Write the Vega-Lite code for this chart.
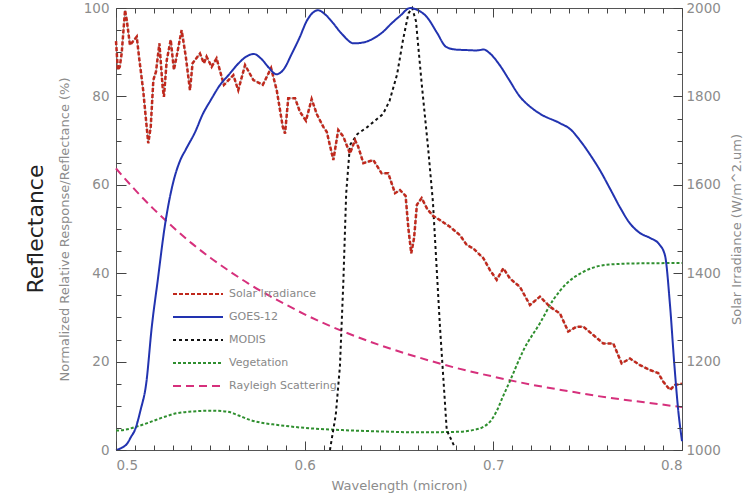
{
  "$schema": "https://vega.github.io/schema/vega-lite/v6.json",
  "width": 566,
  "height": 442,
  "autosize": {"type": "none"},
  "padding": {"left": 116, "top": 8, "right": 70, "bottom": 47},
  "background": "white",
  "title": {"text": "Reflectance", "orient": "left", "anchor": "middle", "font": "DejaVu Sans", "fontSize": 22, "fontWeight": "normal", "color": "#222222", "offset": 10},
  "config": {
    "view": {"stroke": "#555555", "strokeWidth": 1},
    "axis": {"labelFont": "DejaVu Sans", "labelFontSize": 13.5, "labelColor": "#8c8c8c", "titleFont": "DejaVu Sans", "titleFontSize": 13, "titleColor": "#8c8c8c", "titleFontWeight": "normal", "grid": false, "domain": false, "tickColor": "#444444", "tickWidth": 1, "tickOpacity": 1},
    "legend": {"orient": "none", "legendX": 76, "legendY": 280, "symbolType": "M-5,0H5", "symbolSize": 100, "symbolStrokeWidth": 2, "labelFont": "DejaVu Sans", "labelFontSize": 11, "labelColor": "#888888", "labelOffset": 25, "rowPadding": 12}
  },
  "datasets": {
    "rayleigh": [
      {"series": "Rayleigh Scattering", "wl": 0.50, "v": 63.7}, {"series": "Rayleigh Scattering", "wl": 0.51, "v": 58.9}, {"series": "Rayleigh Scattering", "wl": 0.52, "v": 54.5}, {"series": "Rayleigh Scattering", "wl": 0.53, "v": 50.5}, {"series": "Rayleigh Scattering", "wl": 0.54, "v": 46.8}, {"series": "Rayleigh Scattering", "wl": 0.55, "v": 43.5}, {"series": "Rayleigh Scattering", "wl": 0.56, "v": 40.5}, {"series": "Rayleigh Scattering", "wl": 0.57, "v": 37.7}, {"series": "Rayleigh Scattering", "wl": 0.58, "v": 35.2}, {"series": "Rayleigh Scattering", "wl": 0.59, "v": 32.9}, {"series": "Rayleigh Scattering", "wl": 0.60, "v": 30.7}, {"series": "Rayleigh Scattering", "wl": 0.62, "v": 26.9}, {"series": "Rayleigh Scattering", "wl": 0.64, "v": 23.7}, {"series": "Rayleigh Scattering", "wl": 0.66, "v": 21.0}, {"series": "Rayleigh Scattering", "wl": 0.68, "v": 18.6}, {"series": "Rayleigh Scattering", "wl": 0.70, "v": 16.6}, {"series": "Rayleigh Scattering", "wl": 0.72, "v": 14.8}, {"series": "Rayleigh Scattering", "wl": 0.74, "v": 13.3}, {"series": "Rayleigh Scattering", "wl": 0.76, "v": 11.9}, {"series": "Rayleigh Scattering", "wl": 0.78, "v": 10.8}, {"series": "Rayleigh Scattering", "wl": 0.80, "v": 9.7}
    ],
    "veg": [
      {"series": "Vegetation", "wl": 0.500, "v": 4.4}, {"series": "Vegetation", "wl": 0.505, "v": 4.6}, {"series": "Vegetation", "wl": 0.511, "v": 5.3}, {"series": "Vegetation", "wl": 0.518, "v": 6.3}, {"series": "Vegetation", "wl": 0.525, "v": 7.4}, {"series": "Vegetation", "wl": 0.532, "v": 8.3}, {"series": "Vegetation", "wl": 0.540, "v": 8.7}, {"series": "Vegetation", "wl": 0.550, "v": 8.9}, {"series": "Vegetation", "wl": 0.5587, "v": 8.7}, {"series": "Vegetation", "wl": 0.565, "v": 7.8}, {"series": "Vegetation", "wl": 0.571, "v": 6.8}, {"series": "Vegetation", "wl": 0.578, "v": 6.1}, {"series": "Vegetation", "wl": 0.585, "v": 5.7}, {"series": "Vegetation", "wl": 0.595, "v": 5.2}, {"series": "Vegetation", "wl": 0.603, "v": 4.9}, {"series": "Vegetation", "wl": 0.620, "v": 4.5}, {"series": "Vegetation", "wl": 0.640, "v": 4.2}, {"series": "Vegetation", "wl": 0.660, "v": 4.0}, {"series": "Vegetation", "wl": 0.680, "v": 4.1}, {"series": "Vegetation", "wl": 0.689, "v": 4.5}, {"series": "Vegetation", "wl": 0.695, "v": 5.3}, {"series": "Vegetation", "wl": 0.699, "v": 6.8}, {"series": "Vegetation", "wl": 0.702, "v": 9.0}, {"series": "Vegetation", "wl": 0.705, "v": 12.0}, {"series": "Vegetation", "wl": 0.709, "v": 15.8}, {"series": "Vegetation", "wl": 0.716, "v": 22.6}, {"series": "Vegetation", "wl": 0.7247, "v": 28.7}, {"series": "Vegetation", "wl": 0.7318, "v": 34.0}, {"series": "Vegetation", "wl": 0.7389, "v": 37.7}, {"series": "Vegetation", "wl": 0.7477, "v": 40.3}, {"series": "Vegetation", "wl": 0.760, "v": 41.9}, {"series": "Vegetation", "wl": 0.774, "v": 42.2}, {"series": "Vegetation", "wl": 0.800, "v": 42.3}
    ],
    "modis": [
      {"series": "MODIS", "wl": 0.6134, "v": 0}, {"series": "MODIS", "wl": 0.6165, "v": 8}, {"series": "MODIS", "wl": 0.6187, "v": 19}, {"series": "MODIS", "wl": 0.6205, "v": 38}, {"series": "MODIS", "wl": 0.622, "v": 58}, {"series": "MODIS", "wl": 0.624, "v": 69}, {"series": "MODIS", "wl": 0.628, "v": 71.5}, {"series": "MODIS", "wl": 0.633, "v": 73}, {"series": "MODIS", "wl": 0.6415, "v": 76}, {"series": "MODIS", "wl": 0.645, "v": 79}, {"series": "MODIS", "wl": 0.649, "v": 85}, {"series": "MODIS", "wl": 0.652, "v": 92.5}, {"series": "MODIS", "wl": 0.655, "v": 98.8}, {"series": "MODIS", "wl": 0.657, "v": 100}, {"series": "MODIS", "wl": 0.659, "v": 97}, {"series": "MODIS", "wl": 0.662, "v": 83}, {"series": "MODIS", "wl": 0.6655, "v": 68}, {"series": "MODIS", "wl": 0.668, "v": 56}, {"series": "MODIS", "wl": 0.6717, "v": 28}, {"series": "MODIS", "wl": 0.6753, "v": 4.5}, {"series": "MODIS", "wl": 0.6797, "v": 0.5}
    ],
    "goes": [
      {"series": "GOES-12", "wl": 0.500, "v": 0}, {"series": "GOES-12", "wl": 0.503, "v": 0.5}, {"series": "GOES-12", "wl": 0.506, "v": 1.5}, {"series": "GOES-12", "wl": 0.508, "v": 3}, {"series": "GOES-12", "wl": 0.510, "v": 4.5}, {"series": "GOES-12", "wl": 0.513, "v": 9}, {"series": "GOES-12", "wl": 0.516, "v": 15}, {"series": "GOES-12", "wl": 0.519, "v": 28}, {"series": "GOES-12", "wl": 0.522, "v": 38}, {"series": "GOES-12", "wl": 0.526, "v": 51}, {"series": "GOES-12", "wl": 0.530, "v": 60}, {"series": "GOES-12", "wl": 0.534, "v": 65.5}, {"series": "GOES-12", "wl": 0.537, "v": 68}, {"series": "GOES-12", "wl": 0.542, "v": 72}, {"series": "GOES-12", "wl": 0.546, "v": 76}, {"series": "GOES-12", "wl": 0.550, "v": 79}, {"series": "GOES-12", "wl": 0.555, "v": 82.5}, {"series": "GOES-12", "wl": 0.560, "v": 85}, {"series": "GOES-12", "wl": 0.565, "v": 87.5}, {"series": "GOES-12", "wl": 0.569, "v": 89}, {"series": "GOES-12", "wl": 0.573, "v": 89.6}, {"series": "GOES-12", "wl": 0.577, "v": 88.5}, {"series": "GOES-12", "wl": 0.581, "v": 86.5}, {"series": "GOES-12", "wl": 0.585, "v": 85}, {"series": "GOES-12", "wl": 0.589, "v": 86.2}, {"series": "GOES-12", "wl": 0.593, "v": 89.5}, {"series": "GOES-12", "wl": 0.5975, "v": 93.5}, {"series": "GOES-12", "wl": 0.601, "v": 97}, {"series": "GOES-12", "wl": 0.604, "v": 98.8}, {"series": "GOES-12", "wl": 0.607, "v": 99.5}, {"series": "GOES-12", "wl": 0.611, "v": 98.5}, {"series": "GOES-12", "wl": 0.615, "v": 96.6}, {"series": "GOES-12", "wl": 0.620, "v": 94}, {"series": "GOES-12", "wl": 0.626, "v": 92}, {"series": "GOES-12", "wl": 0.631, "v": 92.2}, {"series": "GOES-12", "wl": 0.636, "v": 93}, {"series": "GOES-12", "wl": 0.6415, "v": 94.6}, {"series": "GOES-12", "wl": 0.646, "v": 96.5}, {"series": "GOES-12", "wl": 0.6505, "v": 98.2}, {"series": "GOES-12", "wl": 0.656, "v": 100}, {"series": "GOES-12", "wl": 0.660, "v": 99.5}, {"series": "GOES-12", "wl": 0.6647, "v": 98}, {"series": "GOES-12", "wl": 0.670, "v": 94.5}, {"series": "GOES-12", "wl": 0.675, "v": 91.2}, {"series": "GOES-12", "wl": 0.680, "v": 90.6}, {"series": "GOES-12", "wl": 0.685, "v": 90.5}, {"series": "GOES-12", "wl": 0.691, "v": 90.4}, {"series": "GOES-12", "wl": 0.695, "v": 90.6}, {"series": "GOES-12", "wl": 0.698, "v": 89.8}, {"series": "GOES-12", "wl": 0.7035, "v": 87}, {"series": "GOES-12", "wl": 0.708, "v": 84}, {"series": "GOES-12", "wl": 0.714, "v": 80}, {"series": "GOES-12", "wl": 0.720, "v": 77.5}, {"series": "GOES-12", "wl": 0.725, "v": 76}, {"series": "GOES-12", "wl": 0.735, "v": 74}, {"series": "GOES-12", "wl": 0.741, "v": 72.5}, {"series": "GOES-12", "wl": 0.746, "v": 70}, {"series": "GOES-12", "wl": 0.751, "v": 67}, {"series": "GOES-12", "wl": 0.7565, "v": 63.3}, {"series": "GOES-12", "wl": 0.762, "v": 59}, {"series": "GOES-12", "wl": 0.767, "v": 55}, {"series": "GOES-12", "wl": 0.772, "v": 51.5}, {"series": "GOES-12", "wl": 0.778, "v": 49}, {"series": "GOES-12", "wl": 0.783, "v": 48}, {"series": "GOES-12", "wl": 0.788, "v": 46.5}, {"series": "GOES-12", "wl": 0.791, "v": 44}, {"series": "GOES-12", "wl": 0.7936, "v": 33}, {"series": "GOES-12", "wl": 0.796, "v": 19}, {"series": "GOES-12", "wl": 0.798, "v": 9}, {"series": "GOES-12", "wl": 0.800, "v": 2}
    ],
    "solar": [
      {"series": "Solar Irradiance", "wl": 0.5000, "irr": 1925}, {"series": "Solar Irradiance", "wl": 0.5010, "irr": 1860}, {"series": "Solar Irradiance", "wl": 0.5020, "irr": 1867}, {"series": "Solar Irradiance", "wl": 0.5030, "irr": 1897}, {"series": "Solar Irradiance", "wl": 0.5048, "irr": 1995}, {"series": "Solar Irradiance", "wl": 0.5057, "irr": 1973}, {"series": "Solar Irradiance", "wl": 0.5074, "irr": 1916}, {"series": "Solar Irradiance", "wl": 0.5110, "irr": 1935}, {"series": "Solar Irradiance", "wl": 0.5123, "irr": 1886}, {"series": "Solar Irradiance", "wl": 0.5144, "irr": 1814}, {"series": "Solar Irradiance", "wl": 0.5171, "irr": 1694}, {"series": "Solar Irradiance", "wl": 0.5184, "irr": 1731}, {"series": "Solar Irradiance", "wl": 0.5198, "irr": 1837}, {"series": "Solar Irradiance", "wl": 0.5212, "irr": 1856}, {"series": "Solar Irradiance", "wl": 0.5230, "irr": 1920}, {"series": "Solar Irradiance", "wl": 0.5247, "irr": 1822}, {"series": "Solar Irradiance", "wl": 0.5254, "irr": 1799}, {"series": "Solar Irradiance", "wl": 0.5269, "irr": 1882}, {"series": "Solar Irradiance", "wl": 0.5290, "irr": 1928}, {"series": "Solar Irradiance", "wl": 0.5307, "irr": 1860}, {"series": "Solar Irradiance", "wl": 0.5321, "irr": 1890}, {"series": "Solar Irradiance", "wl": 0.5348, "irr": 1950}, {"series": "Solar Irradiance", "wl": 0.5370, "irr": 1890}, {"series": "Solar Irradiance", "wl": 0.5392, "irr": 1814}, {"series": "Solar Irradiance", "wl": 0.5406, "irr": 1875}, {"series": "Solar Irradiance", "wl": 0.5445, "irr": 1897}, {"series": "Solar Irradiance", "wl": 0.5466, "irr": 1875}, {"series": "Solar Irradiance", "wl": 0.5480, "irr": 1890}, {"series": "Solar Irradiance", "wl": 0.5507, "irr": 1867}, {"series": "Solar Irradiance", "wl": 0.5533, "irr": 1886}, {"series": "Solar Irradiance", "wl": 0.5572, "irr": 1826}, {"series": "Solar Irradiance", "wl": 0.5622, "irr": 1848}, {"series": "Solar Irradiance", "wl": 0.5648, "irr": 1814}, {"series": "Solar Irradiance", "wl": 0.5684, "irr": 1871}, {"series": "Solar Irradiance", "wl": 0.5728, "irr": 1837}, {"series": "Solar Irradiance", "wl": 0.5778, "irr": 1826}, {"series": "Solar Irradiance", "wl": 0.5822, "irr": 1864}, {"series": "Solar Irradiance", "wl": 0.5852, "irr": 1814}, {"series": "Solar Irradiance", "wl": 0.5884, "irr": 1731}, {"series": "Solar Irradiance", "wl": 0.5896, "irr": 1716}, {"series": "Solar Irradiance", "wl": 0.5913, "irr": 1796}, {"series": "Solar Irradiance", "wl": 0.5949, "irr": 1796}, {"series": "Solar Irradiance", "wl": 0.5975, "irr": 1765}, {"series": "Solar Irradiance", "wl": 0.6007, "irr": 1745}, {"series": "Solar Irradiance", "wl": 0.6037, "irr": 1794}, {"series": "Solar Irradiance", "wl": 0.6064, "irr": 1760}, {"series": "Solar Irradiance", "wl": 0.6099, "irr": 1731}, {"series": "Solar Irradiance", "wl": 0.6117, "irr": 1720}, {"series": "Solar Irradiance", "wl": 0.6152, "irr": 1656}, {"series": "Solar Irradiance", "wl": 0.6178, "irr": 1724}, {"series": "Solar Irradiance", "wl": 0.6205, "irr": 1709}, {"series": "Solar Irradiance", "wl": 0.6240, "irr": 1671}, {"series": "Solar Irradiance", "wl": 0.6267, "irr": 1701}, {"series": "Solar Irradiance", "wl": 0.6284, "irr": 1686}, {"series": "Solar Irradiance", "wl": 0.6311, "irr": 1649}, {"series": "Solar Irradiance", "wl": 0.6364, "irr": 1656}, {"series": "Solar Irradiance", "wl": 0.6408, "irr": 1626}, {"series": "Solar Irradiance", "wl": 0.6443, "irr": 1626}, {"series": "Solar Irradiance", "wl": 0.6479, "irr": 1581}, {"series": "Solar Irradiance", "wl": 0.6505, "irr": 1588}, {"series": "Solar Irradiance", "wl": 0.6535, "irr": 1575}, {"series": "Solar Irradiance", "wl": 0.6550, "irr": 1500}, {"series": "Solar Irradiance", "wl": 0.6565, "irr": 1445}, {"series": "Solar Irradiance", "wl": 0.6580, "irr": 1480}, {"series": "Solar Irradiance", "wl": 0.6595, "irr": 1555}, {"series": "Solar Irradiance", "wl": 0.6620, "irr": 1570}, {"series": "Solar Irradiance", "wl": 0.6650, "irr": 1545}, {"series": "Solar Irradiance", "wl": 0.6680, "irr": 1530}, {"series": "Solar Irradiance", "wl": 0.6717, "irr": 1520}, {"series": "Solar Irradiance", "wl": 0.6770, "irr": 1505}, {"series": "Solar Irradiance", "wl": 0.6823, "irr": 1486}, {"series": "Solar Irradiance", "wl": 0.6859, "irr": 1464}, {"series": "Solar Irradiance", "wl": 0.6894, "irr": 1456}, {"series": "Solar Irradiance", "wl": 0.6947, "irr": 1434}, {"series": "Solar Irradiance", "wl": 0.6982, "irr": 1407}, {"series": "Solar Irradiance", "wl": 0.7018, "irr": 1385}, {"series": "Solar Irradiance", "wl": 0.7053, "irr": 1411}, {"series": "Solar Irradiance", "wl": 0.7088, "irr": 1388}, {"series": "Solar Irradiance", "wl": 0.7141, "irr": 1369}, {"series": "Solar Irradiance", "wl": 0.7194, "irr": 1328}, {"series": "Solar Irradiance", "wl": 0.7247, "irr": 1347}, {"series": "Solar Irradiance", "wl": 0.7300, "irr": 1324}, {"series": "Solar Irradiance", "wl": 0.7353, "irr": 1309}, {"series": "Solar Irradiance", "wl": 0.7397, "irr": 1268}, {"series": "Solar Irradiance", "wl": 0.7442, "irr": 1279}, {"series": "Solar Irradiance", "wl": 0.7477, "irr": 1279}, {"series": "Solar Irradiance", "wl": 0.7530, "irr": 1260}, {"series": "Solar Irradiance", "wl": 0.7583, "irr": 1241}, {"series": "Solar Irradiance", "wl": 0.7636, "irr": 1241}, {"series": "Solar Irradiance", "wl": 0.7680, "irr": 1196}, {"series": "Solar Irradiance", "wl": 0.7724, "irr": 1207}, {"series": "Solar Irradiance", "wl": 0.7777, "irr": 1192}, {"series": "Solar Irradiance", "wl": 0.7830, "irr": 1181}, {"series": "Solar Irradiance", "wl": 0.7874, "irr": 1174}, {"series": "Solar Irradiance", "wl": 0.7900, "irr": 1155}, {"series": "Solar Irradiance", "wl": 0.7936, "irr": 1136}, {"series": "Solar Irradiance", "wl": 0.7963, "irr": 1147}, {"series": "Solar Irradiance", "wl": 0.8000, "irr": 1150}
    ]
  },
  "resolve": {"scale": {"y": "independent"}, "axis": {"x": "independent", "y": "independent"}},
  "layer": [
    {
      "data": {"name": "rayleigh"},
      "mark": {"type": "line", "strokeWidth": 2, "interpolate": "monotone"},
      "encoding": {
        "x": {"field": "wl", "type": "quantitative", "scale": {"domain": [0.5, 0.8], "nice": false, "zero": false},
              "axis": {"orient": "bottom", "values": [0.5, 0.6, 0.7, 0.8], "format": ".1f", "tickSize": -9, "zindex": 1, "labelPadding": 17, "title": "Wavelength (micron)", "titlePadding": 8}},
        "y": {"field": "v", "type": "quantitative", "scale": {"domain": [0, 100], "nice": false, "zero": false},
              "axis": {"orient": "left", "values": [0, 20, 40, 60, 80, 100], "format": "d", "tickSize": -10, "zindex": 1, "labelPadding": 17, "title": "Normalized Relative Response/Reflectance (%)", "titlePadding": 12}},
        "color": {"field": "series", "type": "nominal", "scale": {"domain": ["Solar Irradiance", "GOES-12", "MODIS", "Vegetation", "Rayleigh Scattering"], "range": ["#c0281c", "#2233b0", "#111111", "#2f8f2f", "#d6307c"]}, "legend": {"title": null}},
        "strokeDash": {"field": "series", "type": "nominal", "scale": {"domain": ["Solar Irradiance", "GOES-12", "MODIS", "Vegetation", "Rayleigh Scattering"], "range": [[4, 2], [1, 0], [3, 3], [3, 2], [8, 5]]}, "legend": {"title": null}}
      }
    },
    {
      "data": {"name": "veg"},
      "mark": {"type": "line", "strokeWidth": 2, "interpolate": "monotone"},
      "encoding": {
        "x": {"field": "wl", "type": "quantitative", "scale": {"domain": [0.5, 0.8], "nice": false, "zero": false},
              "axis": {"orient": "bottom", "values": [0.51, 0.52, 0.53, 0.54, 0.55, 0.56, 0.57, 0.58, 0.59, 0.61, 0.62, 0.63, 0.64, 0.65, 0.66, 0.67, 0.68, 0.69, 0.71, 0.72, 0.73, 0.74, 0.75, 0.76, 0.77, 0.78, 0.79], "tickSize": -5, "zindex": 1, "labels": false, "title": null}},
        "y": {"field": "v", "type": "quantitative", "scale": {"domain": [0, 100], "nice": false, "zero": false},
              "axis": {"orient": "left", "values": [5, 10, 15, 25, 30, 35, 45, 50, 55, 65, 70, 75, 85, 90, 95], "tickSize": -5, "zindex": 1, "labels": false, "title": null}},
        "color": {"field": "series", "type": "nominal", "legend": {"title": null}},
        "strokeDash": {"field": "series", "type": "nominal", "legend": {"title": null}}
      }
    },
    {
      "data": {"name": "modis"},
      "mark": {"type": "line", "strokeWidth": 2},
      "encoding": {
        "x": {"field": "wl", "type": "quantitative", "scale": {"domain": [0.5, 0.8], "nice": false, "zero": false},
              "axis": {"orient": "top", "values": [0.5, 0.6, 0.7, 0.8], "tickSize": -9, "zindex": 1, "labels": false, "title": null}},
        "y": {"field": "v", "type": "quantitative", "scale": {"domain": [0, 100], "nice": false, "zero": false}, "axis": null},
        "color": {"field": "series", "type": "nominal", "legend": {"title": null}},
        "strokeDash": {"field": "series", "type": "nominal", "legend": {"title": null}}
      }
    },
    {
      "data": {"name": "solar"},
      "mark": {"type": "line", "strokeWidth": 1, "color": "#a89e9e"},
      "encoding": {
        "x": {"field": "wl", "type": "quantitative", "scale": {"domain": [0.5, 0.8], "nice": false, "zero": false},
              "axis": {"orient": "top", "values": [0.51, 0.52, 0.53, 0.54, 0.55, 0.56, 0.57, 0.58, 0.59, 0.61, 0.62, 0.63, 0.64, 0.65, 0.66, 0.67, 0.68, 0.69, 0.71, 0.72, 0.73, 0.74, 0.75, 0.76, 0.77, 0.78, 0.79], "tickSize": -5, "zindex": 1, "labels": false, "title": null}},
        "y": {"field": "irr", "type": "quantitative", "scale": {"domain": [1000, 2000], "nice": false, "zero": false},
              "axis": {"orient": "right", "values": [1050, 1100, 1150, 1250, 1300, 1350, 1450, 1500, 1550, 1650, 1700, 1750, 1850, 1900, 1950], "tickSize": -5, "zindex": 1, "labels": false, "title": null}}
      }
    },
    {
      "data": {"name": "solar"},
      "mark": {"type": "line", "strokeWidth": 2.5},
      "encoding": {
        "x": {"field": "wl", "type": "quantitative", "scale": {"domain": [0.5, 0.8], "nice": false, "zero": false}, "axis": null},
        "y": {"field": "irr", "type": "quantitative", "scale": {"domain": [1000, 2000], "nice": false, "zero": false},
              "axis": {"orient": "right", "values": [1000, 1200, 1400, 1600, 1800, 2000], "format": "d", "tickSize": -9, "zindex": 1, "labelPadding": 13, "title": "Solar Irradiance (W/m^2.um)", "titleAngle": 270, "titleBaseline": "top", "titlePadding": 10}},
        "color": {"field": "series", "type": "nominal", "legend": {"title": null}},
        "strokeDash": {"field": "series", "type": "nominal", "legend": {"title": null}}
      }
    },
    {
      "data": {"name": "goes"},
      "mark": {"type": "line", "strokeWidth": 2, "interpolate": "monotone"},
      "encoding": {
        "x": {"field": "wl", "type": "quantitative", "scale": {"domain": [0.5, 0.8], "nice": false, "zero": false}, "axis": null},
        "y": {"field": "v", "type": "quantitative", "scale": {"domain": [0, 100], "nice": false, "zero": false}, "axis": null},
        "color": {"field": "series", "type": "nominal", "legend": {"title": null}},
        "strokeDash": {"field": "series", "type": "nominal", "legend": {"title": null}}
      }
    }
  ]
}
